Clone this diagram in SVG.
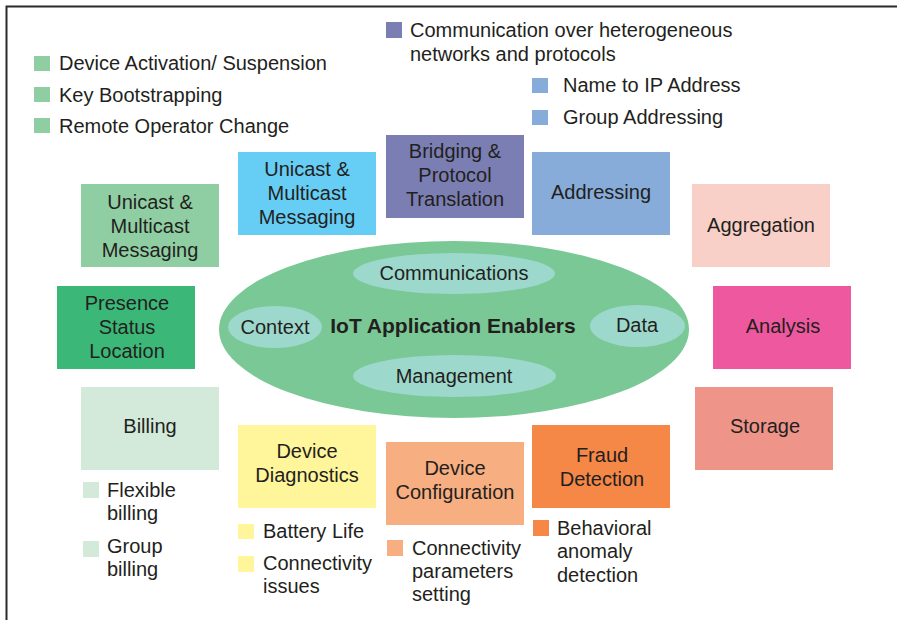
<svg xmlns="http://www.w3.org/2000/svg" width="897" height="620" viewBox="0 0 897 620">
<style>
.t{font-family:"Liberation Sans",Arial,sans-serif;font-size:20px;fill:#231f20}
.c{text-anchor:middle}
.b{font-weight:bold;font-size:21px}
.box{stroke:none}
</style>
<rect x="0" y="0" width="897" height="620" fill="#ffffff"/>
<rect x="6.5" y="6.5" width="910" height="640" fill="none" stroke="#2a2a2a" stroke-width="2"/>

<!-- top-left legend -->
<g id="legend-management">
<rect x="34" y="56" width="16" height="15" fill="#8fcea3"/>
<text class="t" x="59" y="70">Device Activation/ Suspension</text>
<rect x="34" y="87" width="16" height="15" fill="#8fcea3"/>
<text class="t" x="59" y="102">Key Bootstrapping</text>
<rect x="34" y="118" width="16" height="15" fill="#8fcea3"/>
<text class="t" x="59" y="133">Remote Operator Change</text>
</g>

<g id="legend-bridging">
<rect x="386" y="22" width="16" height="16" fill="#7a7eb3"/>
<text class="t" x="410" y="37">Communication over heterogeneous</text>
<text class="t" x="410" y="61">networks and protocols</text>
</g>

<g id="legend-addressing">
<rect x="532" y="78" width="16" height="15" fill="#87acd9"/>
<text class="t" x="563" y="92">Name to IP Address</text>
<rect x="532" y="110" width="16" height="15" fill="#87acd9"/>
<text class="t" x="563" y="124">Group Addressing</text>
</g>

<!-- boxes -->
<g id="unicast-green">
<rect class="box" x="81" y="184" width="138" height="83" fill="#8fcea3"/>
<text class="t c" x="150" y="209">Unicast &amp;</text>
<text class="t c" x="150" y="233">Multicast</text>
<text class="t c" x="150" y="257">Messaging</text>
</g>
<g id="unicast-blue">
<rect class="box" x="238" y="152" width="138" height="83" fill="#66cdf5"/>
<text class="t c" x="307" y="176">Unicast &amp;</text>
<text class="t c" x="307" y="200">Multicast</text>
<text class="t c" x="307" y="224">Messaging</text>
</g>
<g id="bridging">
<rect class="box" x="386" y="135" width="138" height="83" fill="#7a7eb3"/>
<text class="t c" x="455" y="158">Bridging &amp;</text>
<text class="t c" x="455" y="182">Protocol</text>
<text class="t c" x="455" y="206">Translation</text>
</g>
<g id="addressing">
<rect class="box" x="532" y="152" width="138" height="83" fill="#87acd9"/>
<text class="t c" x="601" y="199">Addressing</text>
</g>
<g id="aggregation">
<rect class="box" x="692" y="184" width="138" height="83" fill="#f8d0c8"/>
<text class="t c" x="761" y="232">Aggregation</text>
</g>
<g id="analysis">
<rect class="box" x="713" y="286" width="138" height="83" fill="#ee589e"/>
<text class="t c" x="783" y="333">Analysis</text>
</g>
<g id="storage">
<rect class="box" x="695" y="387" width="138" height="83" fill="#ef9488"/>
<text class="t c" x="765" y="433">Storage</text>
</g>
<g id="presence">
<rect class="box" x="57" y="286" width="138" height="83" fill="#3bb878"/>
<text class="t c" x="127" y="310">Presence</text>
<text class="t c" x="127" y="334">Status</text>
<text class="t c" x="127" y="358">Location</text>
</g>
<g id="billing">
<rect class="box" x="81" y="387" width="138" height="83" fill="#d3eadb"/>
<text class="t c" x="150" y="433">Billing</text>
<rect x="83" y="482" width="16" height="16" fill="#d3eadb"/>
<text class="t" x="107" y="497">Flexible</text>
<text class="t" x="107" y="520">billing</text>
<rect x="83" y="541" width="16" height="16" fill="#d3eadb"/>
<text class="t" x="107" y="553">Group</text>
<text class="t" x="107" y="576">billing</text>
</g>
<g id="device-diagnostics">
<rect class="box" x="238" y="425" width="138" height="83" fill="#fff59b"/>
<text class="t c" x="307" y="458">Device</text>
<text class="t c" x="307" y="482">Diagnostics</text>
<rect x="238" y="524" width="16" height="15" fill="#fff59b"/>
<text class="t" x="263" y="538">Battery Life</text>
<rect x="238" y="556" width="16" height="16" fill="#fff59b"/>
<text class="t" x="263" y="570">Connectivity</text>
<text class="t" x="263" y="593">issues</text>
</g>
<g id="device-configuration">
<rect class="box" x="386" y="442" width="138" height="83" fill="#f7ae80"/>
<text class="t c" x="455" y="475">Device</text>
<text class="t c" x="455" y="499">Configuration</text>
<rect x="387" y="540" width="16" height="16" fill="#f7ae80"/>
<text class="t" x="412" y="555">Connectivity</text>
<text class="t" x="412" y="578">parameters</text>
<text class="t" x="412" y="601">setting</text>
</g>
<g id="fraud-detection">
<rect class="box" x="532" y="425" width="138" height="83" fill="#f58747"/>
<text class="t c" x="602" y="462">Fraud</text>
<text class="t c" x="602" y="486">Detection</text>
<rect x="533" y="520" width="16" height="16" fill="#f58747"/>
<text class="t" x="557" y="535">Behavioral</text>
<text class="t" x="557" y="558">anomaly</text>
<text class="t" x="557" y="582">detection</text>
</g>

<!-- central ellipse -->
<g id="iot-application-enablers">
<ellipse cx="454" cy="329.5" rx="235" ry="88.5" fill="#79c895"/>
<text class="t c b" x="453" y="333">IoT Application Enablers</text>
</g>
<g id="communications">
<ellipse cx="454" cy="273.5" rx="101" ry="20.5" fill="#9dd8cc"/>
<text class="t c" x="454" y="280">Communications</text>
</g>
<g id="management">
<ellipse cx="454.5" cy="376" rx="101.5" ry="21" fill="#9dd8cc"/>
<text class="t c" x="454" y="383">Management</text>
</g>
<g id="context">
<ellipse cx="275" cy="327" rx="47" ry="21" fill="#9dd8cc"/>
<text class="t c" x="275" y="334">Context</text>
</g>
<g id="data">
<ellipse cx="637.5" cy="326" rx="47.5" ry="21" fill="#9dd8cc"/>
<text class="t c" x="637" y="332">Data</text>
</g>
</svg>
